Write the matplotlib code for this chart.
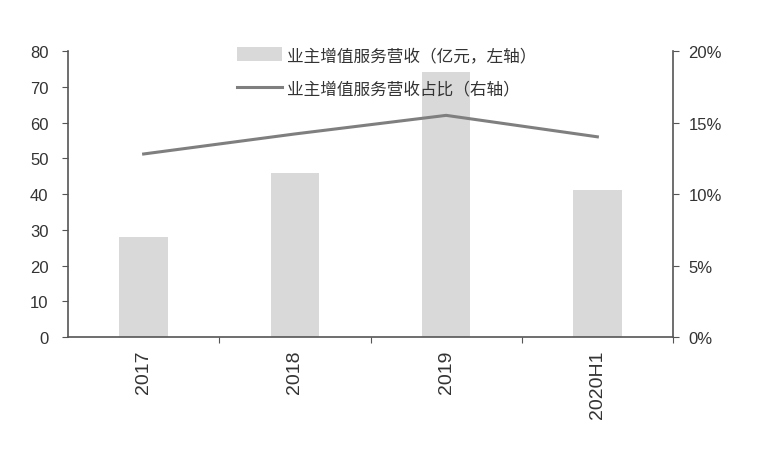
import matplotlib
matplotlib.use("Agg")
import matplotlib.pyplot as plt
from matplotlib.ticker import FuncFormatter

plt.rcParams['font.family'] = ['Liberation Sans', 'Noto Sans CJK SC', 'DejaVu Sans']

categories = ['2017', '2018', '2019', '2020H1']
revenue = [28, 46, 74, 41]            # 亿元, left axis
share = [12.8, 14.2, 15.5, 14.0]      # %, right axis
bar_label = '业主增值服务营收（亿元，左轴）'
line_label = '业主增值服务营收占比（右轴）'

fig = plt.figure(figsize=(7.6, 4.6), dpi=100)
ax = fig.add_axes([0.0895, 0.265, 0.796, 0.622])
x = list(range(len(categories)))
bars = ax.bar(x, revenue, width=0.32, color='#d9d9d9', label=bar_label, zorder=1)
ax.set_xlim(-0.5, len(categories) - 0.5)
ax.set_ylim(0, 80)
ax.set_yticks(range(0, 81, 10))
ax.set_xticks([i + 0.5 for i in range(len(categories))])
ax.set_xticklabels([])
ax.set_xticks(x, minor=True)
ax.set_xticklabels(categories, minor=True, rotation=90, fontsize=14, color='#333333')
ax.tick_params(axis='x', which='minor', length=0, pad=9)
ax.tick_params(axis='x', which='major', length=4, color='#555555', direction='out')
ax.tick_params(axis='y', labelsize=12, labelcolor='#333333', length=4, pad=10, color='#555555')

for s in ['top', 'right']:
    ax.spines[s].set_visible(False)
for s in ['left', 'bottom']:
    ax.spines[s].set_color('#555555')
    ax.spines[s].set_linewidth(1.2)

ax2 = ax.twinx()
line, = ax2.plot(x, share, color='#7f7f7f', linewidth=2.2, label=line_label, zorder=3)
ax2.set_ylim(0, 20)
ax2.set_yticks(range(0, 21, 5))
ax2.yaxis.set_major_formatter(FuncFormatter(lambda v, p: f'{int(v)}%'))
ax2.tick_params(axis='y', labelsize=12, labelcolor='#333333', length=4, pad=7, color='#555555')
for s in ['top', 'left', 'bottom']:
    ax2.spines[s].set_visible(False)
ax2.spines['right'].set_color('#555555')
ax2.spines['right'].set_linewidth(1.2)

fig.legend([bars, line], [bar_label, line_label], loc='upper left',
           bbox_to_anchor=(0.312, 0.896), frameon=False, borderpad=0, borderaxespad=0,
           prop={'family': ['Noto Sans CJK SC', 'DejaVu Sans'], 'size': 12},
           handlelength=2.7, handleheight=0.95, labelspacing=1.0, handletextpad=0.3,
           labelcolor='#333333')

fig.savefig('out.png', dpi=100)
